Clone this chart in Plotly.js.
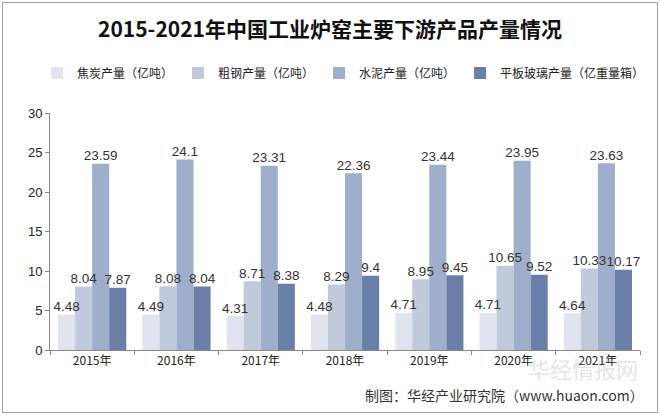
<!DOCTYPE html>
<html><head><meta charset="utf-8">
<script src="https://cdn.plot.ly/plotly-3.0.1.min.js"></script>
<style>
body{margin:0;background:#fff;}
#frame{position:absolute;left:2px;top:2px;width:654px;height:409px;border:1px solid #a0a0a0;pointer-events:none;}
#chart{position:absolute;left:0;top:0;width:660px;height:415px;}
</style></head>
<body>
<div id="chart"></div>
<div id="frame"></div>
<script>
const years = ["2015年","2016年","2017年","2018年","2019年","2020年","2021年"];
const seriesNames = ["焦炭产量（亿吨）","粗钢产量（亿吨）","水泥产量（亿吨）","平板玻璃产量（亿重量箱）"];
const coke = [4.48, 4.49, 4.31, 4.48, 4.71, 4.71, 4.64];
const steel = [8.04, 8.08, 8.71, 8.29, 8.95, 10.65, 10.33];
const cement = [23.59, 24.1, 23.31, 22.36, 23.44, 23.95, 23.63];
const glass = [7.87, 8.04, 8.38, 9.4, 9.45, 9.52, 10.17];
const colors = ["#E0E4EE","#C0CADB","#9FAECB","#6A7FA8"];
const allValues = [coke, steel, cement, glass];

const barTraces = allValues.map((vals, i) => ({
  type: "bar",
  name: seriesNames[i],
  x: years,
  y: vals,
  offsetgroup: "g" + i,
  marker: {color: colors[i]},
  hoverinfo: "none"
}));
const labelTraces = allValues.map((vals, i) => ({
  type: "scatter",
  mode: "text",
  x: years,
  y: vals,
  offsetgroup: "g" + i,
  text: vals.map(v => String(v)),
  textposition: "top center",
  cliponaxis: false,
  showlegend: false,
  textfont: {family: "Liberation Sans, Arial, sans-serif", size: 13.5, color: "#333"},
  hoverinfo: "none"
}));

const layout = {
  width: 660, height: 415,
  margin: {l: 50, r: 20, t: 113, b: 65},
  paper_bgcolor: "#fff", plot_bgcolor: "#fff",
  barmode: "group", bargap: 0.19, bargroupgap: 0,
  scattermode: "group", scattergap: 0.19,
  title: {text: "<b>2015-2021年中国工业炉窑主要下游产品产量情况</b>",
    font: {family: "Noto Sans CJK SC, sans-serif", size: 21, color: "#111"},
    x: 0.5, xanchor: "center", y: 0.928, yanchor: "middle"},
  showlegend: true,
  legend: {orientation: "h", x: -0.022, xanchor: "left", y: 1.169, yanchor: "middle",
    font: {family: "Noto Sans CJK SC, sans-serif", size: 12, color: "#222"},
    itemwidth: 30, tracegroupgap: 0},
  xaxis: {type: "category", showline: true, linecolor: "#888", linewidth: 1,
    ticks: "outside", tickson: "boundaries", ticklen: 4, tickcolor: "#888",
    tickfont: {family: "Noto Sans CJK SC, sans-serif", size: 12, color: "#222"},
    showgrid: false, zeroline: false},
  yaxis: {range: [0, 30], dtick: 5, showline: true, linecolor: "#888", linewidth: 1,
    ticks: "outside", ticklen: 4, tickcolor: "#888", showgrid: false, zeroline: false,
    tickfont: {family: "Liberation Sans, Arial, sans-serif", size: 13, color: "#222"}},
  annotations: [
    {text: "华经情报网", xref: "paper", yref: "paper", x: 1.0, y: -0.075, xanchor: "right", yanchor: "middle",
     showarrow: false, font: {family: "Noto Sans CJK SC, sans-serif", size: 22, color: "rgba(160,160,160,0.3)"}},
    {text: "制图：华经产业研究院（www.huaon.com）", xref: "paper", yref: "paper", x: 1.01, y: -0.19,
     xanchor: "right", yanchor: "middle", showarrow: false,
     font: {family: "Noto Sans CJK SC, sans-serif", size: 14, color: "#333"}}
  ]
};

Plotly.newPlot("chart", barTraces.concat(labelTraces), layout, {staticPlot: true, displayModeBar: false});
</script>
</body></html>
